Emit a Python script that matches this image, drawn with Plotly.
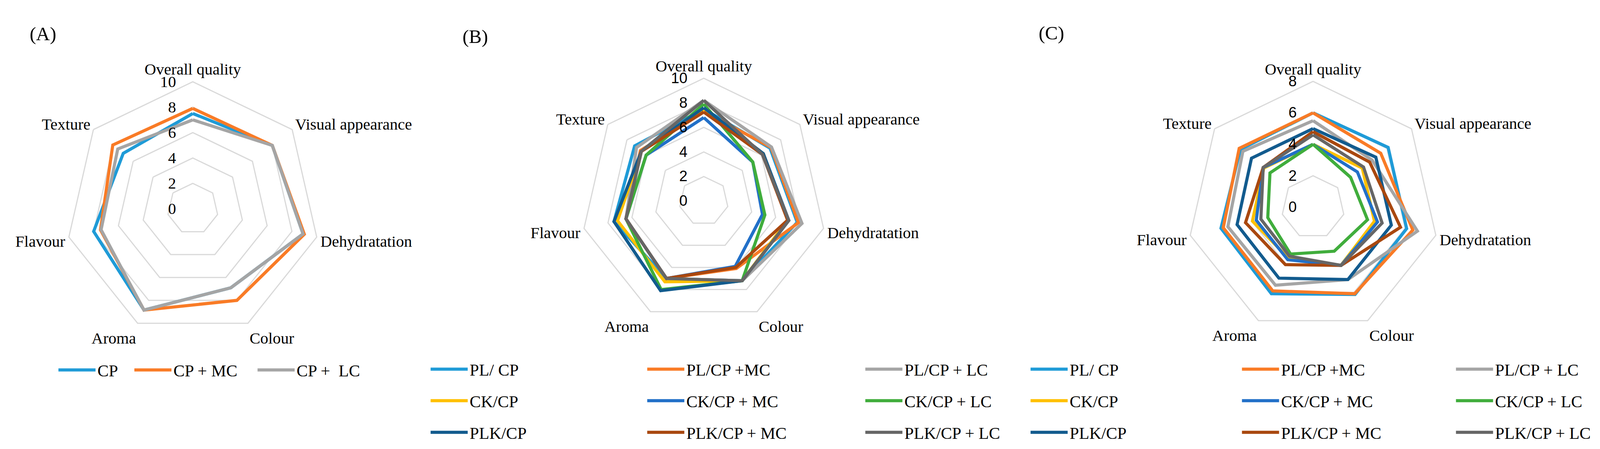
import plotly.graph_objects as go

categories = ["Overall quality", "Visual appearance", "Dehydratation", "Colour",
              "Aroma", "Flavour", "Texture"]

# (A)
a_names = ["CP", "CP + MC", "CP +  LC"]
a_cp = [7.5, 8.0, 8.9, 6.9, 8.85, 8.0, 7.0]
a_cp_mc = [7.9, 8.0, 9.0, 8.0, 8.85, 7.45, 8.05]
a_cp_lc = [7.0, 8.0, 8.9, 6.9, 8.85, 7.4, 7.55]

# (B) and (C), same 9 groups
bc_names = ["PL/ CP", "PL/CP +MC", "PL/CP + LC",
            "CK/CP", "CK/CP + MC", "CK/CP + LC",
            "PLK/CP", "PLK/CP + MC", "PLK/CP + LC"]

b_pl_cp = [7.5, 6.9, 7.8, 7.2, 7.0, 7.5, 7.2]
b_pl_cp_mc = [7.3, 7.0, 7.9, 6.1, 7.0, 6.5, 6.6]
b_pl_cp_lc = [8.2, 7.05, 8.2, 7.2, 7.0, 6.5, 7.0]
b_ck_cp = [7.5, 6.2, 7.0, 7.2, 7.3, 7.2, 6.5]
b_ck_cp_mc = [6.8, 5.1, 4.9, 5.9, 7.0, 6.5, 6.0]
b_ck_cp_lc = [7.9, 5.1, 5.1, 7.2, 8.0, 6.5, 6.0]
b_plk_cp = [7.6, 6.2, 7.1, 7.2, 8.1, 7.5, 6.5]
b_plk_cp_mc = [7.25, 6.1, 7.0, 6.0, 7.0, 6.5, 6.5]
b_plk_cp_lc = [8.2, 6.1, 7.1, 7.2, 7.0, 6.5, 6.5]

c_pl_cp = [6.0, 6.1, 6.1, 6.15, 6.1, 6.0, 5.9]
c_pl_cp_mc = [6.0, 5.5, 6.5, 6.1, 5.9, 5.85, 6.0]
c_pl_cp_lc = [5.5, 4.8, 6.8, 5.1, 5.5, 5.55, 5.7]
c_ck_cp = [4.0, 4.0, 4.0, 4.1, 3.6, 3.95, 4.0]
c_ck_cp_mc = [4.0, 3.6, 4.2, 4.1, 3.7, 3.7, 4.05]
c_ck_cp_lc = [4.0, 3.05, 3.55, 3.1, 3.3, 2.95, 3.5]
c_plk_cp = [5.0, 5.1, 5.1, 5.1, 5.0, 4.95, 5.0]
c_plk_cp_mc = [4.8, 4.6, 5.7, 4.1, 4.05, 4.4, 4.05]
c_plk_cp_lc = [4.6, 4.1, 4.5, 4.1, 3.45, 3.4, 4.05]

a_colors = ["#1F9BD7", "#F97B26", "#A5A5A5"]
bc_colors = ["#1F9BD7", "#F97B26", "#A5A5A5",
             "#FFC000", "#2270C8", "#40AD3C",
             "#125B8E", "#A9480F", "#666666"]

serif = "Liberation Serif"
sans = "Liberation Sans"
grid = "#d9d9d9"

# the page is shown 4096 px wide with the default 8 px body margin,
# so the figure is sized to fit and the reference positions are scaled in x
FW, FH = 4080, 1134
SX = 4096 / 4299


def X(x_ref):
    return x_ref * SX - 8


def Y(y_ref):
    return y_ref - 8


def closed(vals):
    return list(vals) + [vals[0]]


fig = go.Figure()

a_legends = ["legend", "legend2", "legend3"]
for i, (name, vals, col) in enumerate(zip(a_names, [a_cp, a_cp_mc, a_cp_lc], a_colors)):
    fig.add_trace(go.Scatterpolar(r=closed(vals), theta=closed(categories), name=name,
                                  mode="lines", line=dict(color=col, width=8),
                                  subplot="polar", legend=a_legends[i]))

b_series = [b_pl_cp, b_pl_cp_mc, b_pl_cp_lc, b_ck_cp, b_ck_cp_mc, b_ck_cp_lc,
            b_plk_cp, b_plk_cp_mc, b_plk_cp_lc]
for i, (name, vals, col) in enumerate(zip(bc_names, b_series, bc_colors)):
    fig.add_trace(go.Scatterpolar(r=closed(vals), theta=closed(categories), name=name,
                                  mode="lines", line=dict(color=col, width=8),
                                  subplot="polar2", legend="legend%d" % (4 + i % 3),
                                  legendgroup="b%d" % i))

c_series = [c_pl_cp, c_pl_cp_mc, c_pl_cp_lc, c_ck_cp, c_ck_cp_mc, c_ck_cp_lc,
            c_plk_cp, c_plk_cp_mc, c_plk_cp_lc]
for i, (name, vals, col) in enumerate(zip(bc_names, c_series, bc_colors)):
    fig.add_trace(go.Scatterpolar(r=closed(vals), theta=closed(categories), name=name,
                                  mode="lines", line=dict(color=col, width=8),
                                  subplot="polar3", legend="legend%d" % (7 + i % 3),
                                  legendgroup="c%d" % i))


def polar_layout(cx_ref, cy_ref, radius, rmax, tick_font):
    cx, cy = X(cx_ref), Y(cy_ref)
    return dict(
        domain=dict(x=[(cx - radius) / FW, (cx + radius) / FW],
                    y=[1 - (cy + radius) / FH, 1 - (cy - radius) / FH]),
        gridshape="linear",
        bgcolor="white",
        radialaxis=dict(range=[0, rmax], dtick=2, angle=90, side="counterclockwise",
                        showline=False, gridcolor=grid, gridwidth=3,
                        ticks="outside", ticklen=28, tickcolor="rgba(0,0,0,0)",
                        tickangle=90, tickfont=tick_font),
        angularaxis=dict(direction="clockwise", rotation=90, showgrid=False,
                         showline=True, linecolor=grid, linewidth=3, ticks="",
                         tickfont=dict(family=serif, size=41, color="black")),
    )


def legend_box(x_ref, y_ref, vertical=False):
    return dict(orientation="v" if vertical else "h",
                x=(X(x_ref) - 5) / FW, y=1 - Y(y_ref) / FH, xanchor="left", yanchor="middle",
                font=dict(family=serif, size=43, color="black"), itemwidth=95,
                tracegroupgap=22, bgcolor="rgba(0,0,0,0)")


def panel_label(text, x_ref, y_ref):
    return dict(text=text, x=X(x_ref) / FW, y=1 - Y(y_ref) / FH, xref="paper", yref="paper",
                showarrow=False, font=dict(family=serif, size=49, color="black"))


layout = dict(
    width=FW, height=FH,
    margin=dict(l=0, r=0, t=0, b=0),
    paper_bgcolor="white",
    showlegend=True,
    polar=polar_layout(518, 539, 328, 10, dict(family=serif, size=41, color="black")),
    polar2=polar_layout(1891, 519, 317, 10, dict(family=sans, size=38, color="black")),
    polar3=polar_layout(3528, 535, 325, 8, dict(family=sans, size=38, color="black")),
    annotations=[panel_label("(A)", 78, 57),
                 panel_label("(B)", 1241, 64),
                 panel_label("(C)", 2825, 55)],
)

# legend positions (reference px): left end of the line sample, centre of the middle row
a_leg_x = [157, 361, 692]
for key, xp in zip(a_legends, a_leg_x):
    layout[key] = legend_box(xp, 955)
b_col_x = [1157, 1739, 2325]
c_col_x = [2769, 3337, 3912]
for j, xp in enumerate(b_col_x):
    layout["legend%d" % (4 + j)] = legend_box(xp, 1035, vertical=True)
for j, xp in enumerate(c_col_x):
    layout["legend%d" % (7 + j)] = legend_box(xp, 1035, vertical=True)

fig.update_layout(**layout)

fig.write_html("out.html")
